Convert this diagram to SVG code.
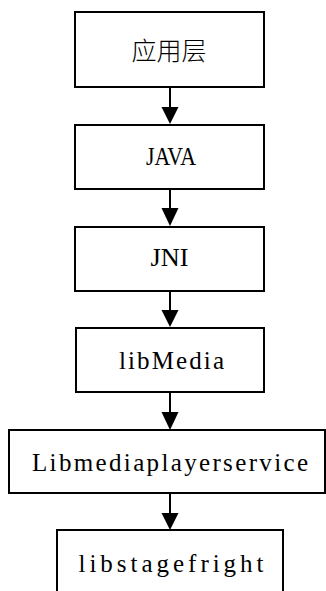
<svg xmlns="http://www.w3.org/2000/svg" width="326" height="591" viewBox="0 0 326 591">
<style>
.box{fill:#fff;stroke:#000;stroke-width:2}
.lbl{font-family:"Liberation Serif",serif;font-size:25px;fill:#000;text-anchor:middle}
.cjk{font-family:"Noto Sans CJK SC",sans-serif;font-size:25px;fill:#000;text-anchor:middle;font-weight:300}
.ln{stroke:#000;stroke-width:2;fill:none}
.hd{fill:#000;stroke:none}
</style>
<rect width="326" height="591" fill="#fff"/>
<g id="connectors">
<line class="ln" x1="170" y1="87" x2="170" y2="110"/>
<polygon class="hd" points="161.5,107 178.5,107 170,124"/>
<line class="ln" x1="170" y1="189" x2="170" y2="210"/>
<polygon class="hd" points="161.5,208 178.5,208 170,226"/>
<line class="ln" x1="170" y1="291" x2="170" y2="312"/>
<polygon class="hd" points="161.5,310 178.5,310 170,327"/>
<line class="ln" x1="170" y1="392" x2="170" y2="414"/>
<polygon class="hd" points="161.5,412 178.5,412 170,430"/>
<line class="ln" x1="170" y1="493" x2="170" y2="515"/>
<polygon class="hd" points="161.5,513 178.5,513 170,530"/>
</g>
<g id="n1"><rect class="box" x="75" y="12" width="189" height="75"/><text class="cjk" x="169" y="60" textLength="75" lengthAdjust="spacingAndGlyphs">应用层</text></g>
<g id="n2"><rect class="box" x="75" y="125" width="189" height="64"/><text class="lbl" x="171" y="165" textLength="50" lengthAdjust="spacingAndGlyphs">JAVA</text></g>
<g id="n3"><rect class="box" x="75" y="227" width="189" height="64"/><text class="lbl" x="169.5" y="266" textLength="38" lengthAdjust="spacingAndGlyphs">JNI</text></g>
<g id="n4"><rect class="box" x="76" y="328" width="188" height="64"/><text class="lbl" x="171.5" y="369" textLength="105" lengthAdjust="spacing">libMedia</text></g>
<g id="n5"><rect class="box" x="9" y="430" width="316" height="63"/><text class="lbl" x="170" y="471" textLength="276" lengthAdjust="spacing">Libmediaplayerservice</text></g>
<g id="n6"><rect class="box" x="57" y="530" width="226" height="75"/><text class="lbl" x="171" y="572" textLength="185" lengthAdjust="spacing">libstagefright</text></g>
</svg>
